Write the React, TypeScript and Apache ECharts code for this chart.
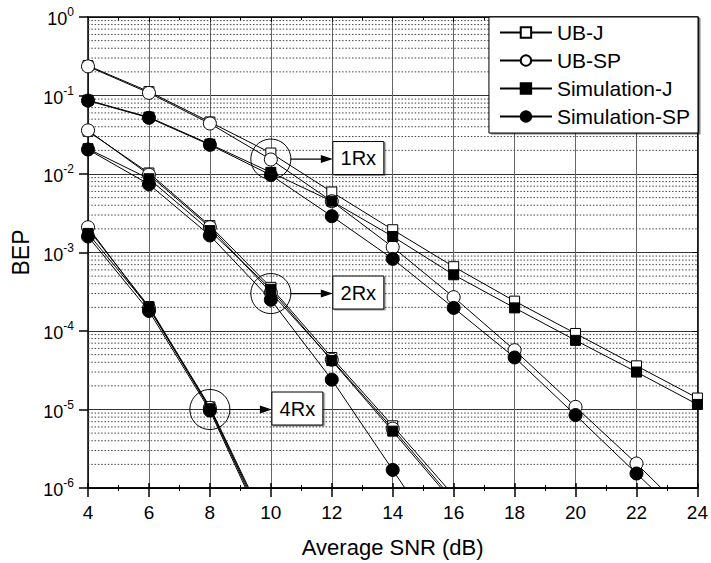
import React, { useEffect, useRef } from "react";
import * as echarts from "echarts";

const snr = [4, 6, 8, 10, 12, 14, 16, 18, 20, 22, 24];

// 1 receive antenna
const ubJ1 = [0.24, 0.112, 0.046, 0.0185, 0.0059, 0.00195, 0.00066, 0.00024, 0.000093, 0.000036, 0.000014];
const ubSP1 = [0.235, 0.108, 0.044, 0.0153, 0.0045, 0.00117, 0.00027, 0.000057, 0.0000108, 0.00000205, 0.00000035];
const simJ1 = [0.087, 0.053, 0.024, 0.0105, 0.0045, 0.0016, 0.00052, 0.000197, 0.000076, 0.00003, 0.0000116];
const simSP1 = [0.086, 0.052, 0.0235, 0.0097, 0.0029, 0.00083, 0.000197, 0.000046, 0.0000085, 0.00000153, 0.00000028];

// 2 receive antennas
const ubJ2 = [0.035, 0.0103, 0.0022, 0.00036, 0.000046, 0.0000062, 0.0000008, null, null, null, null];
const ubSP2 = [0.036, 0.0098, 0.0021, 0.00031, 0.000043, 0.0000057, 0.0000007, null, null, null, null];
const simJ2 = [0.021, 0.0087, 0.0019, 0.00034, 0.000042, 0.0000053, 0.00000065, null, null, null, null];
const simSP2 = [0.0205, 0.0074, 0.00165, 0.00025, 0.000024, 0.0000017, 0.00000012, null, null, null, null];

// 4 receive antennas
const ubJ4 = [0.002, 0.000205, 0.0000108, 0.00000026, null, null, null, null, null, null, null];
const ubSP4 = [0.0021, 0.000195, 0.0000105, 0.00000024, null, null, null, null, null, null, null];
const simJ4 = [0.00175, 0.0002, 0.0000102, 0.00000022, null, null, null, null, null, null, null];
const simSP4 = [0.0016, 0.00018, 0.0000097, 0.0000002, null, null, null, null, null, null, null];

const legendNames = ["UB-J", "UB-SP", "Simulation-J", "Simulation-SP"];

const groups = [
  [ubJ1, ubSP1, simJ1, simSP1],
  [ubJ2, ubSP2, simJ2, simSP2],
  [ubJ4, ubSP4, simJ4, simSP4],
];

const annotations = [
  { label: "1Rx", x: 10, y: 0.0155 },
  { label: "2Rx", x: 10, y: 0.0003 },
  { label: "4Rx", x: 8, y: 0.00001 },
];

const minorMantissas = [2, 3, 4, 5, 6, 7, 8, 9];
const decadeExponents = [-6, -5, -4, -3, -2, -1];

const FONT = "Liberation Sans, Arial, Helvetica, sans-serif";

const markerStyles = [
  { symbol: "rect", size: 10, fill: "#ffffff" },
  { symbol: "circle", size: 13, fill: "#ffffff" },
  { symbol: "rect", size: 10, fill: "#000000" },
  { symbol: "circle", size: 13, fill: "#000000" },
];

export default function App() {
  const ref = useRef<HTMLDivElement>(null);

  useEffect(() => {
    if (!ref.current) return;
    const chart = echarts.init(ref.current, undefined, { renderer: "svg" });

    // minor (dotted) horizontal grid lines at 2..9 x 10^e, drawn through the axes
    const minorData: any[] = [];
    decadeExponents.forEach((e) =>
      minorMantissas.forEach((m) => {
        const v = Number((m * Math.pow(10, e)).toPrecision(3));
        minorData.push([snr[0], v], [snr[snr.length - 1], v], [snr[snr.length - 1], "-"]);
      })
    );

    const series: any[] = [
      {
        type: "line",
        name: "minor-grid",
        data: minorData,
        symbol: "none",
        silent: true,
        connectNulls: false,
        z: 1,
        lineStyle: { type: [1.5, 1.8], color: "#444", width: 1 },
        emphasis: { disabled: true },
        tooltip: { show: false },
        animation: false,
      },
    ];
    groups.forEach((grp) => {
      grp.forEach((vals, si) => {
        const ms = markerStyles[si];
        const data = snr
          .map((x, i) => [x, vals[i]])
          .filter((p) => p[1] !== null && p[1] !== undefined);
        series.push({
          type: "line",
          name: legendNames[si],
          data,
          symbol: ms.symbol,
          symbolSize: ms.size,
          showAllSymbol: true,
          clip: true,
          z: 3 + si,
          lineStyle: { color: "#000", width: 1 },
          itemStyle: { color: ms.fill, borderColor: "#000", borderWidth: 1 },
          emphasis: { disabled: true },
          animation: false,
        });
      });
    });

    const axisLine = { show: true, lineStyle: { color: "#000", width: 1.5 } };

    chart.setOption({
      animation: false,
      backgroundColor: "#fff",
      grid: { left: 88, top: 17, width: 613, height: 472, containLabel: false },
      legend: {
        data: legendNames,
        orient: "vertical",
        right: 13,
        top: 17,
        backgroundColor: "#fff",
        borderColor: "#000",
        borderWidth: 1,
        shadowColor: "rgba(0,0,0,0.5)",
        shadowOffsetX: 2,
        shadowOffsetY: 1,
        shadowBlur: 0,
        padding: [5, 8, 6, 10],
        itemGap: 7,
        itemWidth: 52,
        itemHeight: 13,
        textStyle: { fontSize: 21, fontFamily: FONT, color: "#000" },
        selectedMode: false,
      },
      xAxis: [
        {
          type: "value",
          position: "bottom",
          min: 4,
          max: 24,
          interval: 2,
          axisLine,
          axisTick: { show: true, inside: false, length: 9, lineStyle: { color: "#000", width: 1.5 } },
          minorTick: { show: true, splitNumber: 2, length: 3, lineStyle: { color: "#000" } },
          axisLabel: { fontSize: 19, fontFamily: FONT, color: "#000", margin: 15 },
          splitLine: { show: true, lineStyle: { color: "#666", width: 1 } },
          name: "Average SNR (dB)",
          nameLocation: "middle",
          nameGap: 48,
          nameTextStyle: { fontSize: 22, fontFamily: FONT, color: "#000" },
        },
        {
          type: "value",
          position: "bottom",
          min: 4,
          max: 24,
          interval: 2,
          axisLine,
          axisTick: { show: true, inside: true, length: 5, lineStyle: { color: "#000", width: 1.5 } },
          minorTick: { show: true, splitNumber: 2, length: 3, lineStyle: { color: "#000" } },
          axisLabel: { show: false },
          splitLine: { show: false },
        },
        {
          type: "value",
          position: "top",
          min: 4,
          max: 24,
          interval: 2,
          axisLine,
          axisTick: { show: true, inside: true, length: 5, lineStyle: { color: "#000" } },
          minorTick: { show: true, splitNumber: 2, length: 3, lineStyle: { color: "#000" } },
          axisLabel: { show: false },
          splitLine: { show: false },
        },
      ],
      yAxis: [
        {
          type: "log",
          logBase: 10,
          min: 1e-6,
          max: 1,
          position: "left",
          axisLine,
          axisTick: { show: true, inside: false, length: 9, lineStyle: { color: "#000", width: 1.5 } },
          axisLabel: {
            margin: 14,
            formatter: (v: number) => `{b|10}{s|${Math.round(Math.log10(v))}}`,
            rich: {
              b: { fontSize: 18, fontFamily: FONT, color: "#000", lineHeight: 22, verticalAlign: "bottom" },
              s: { fontSize: 12, fontFamily: FONT, color: "#000", lineHeight: 12, verticalAlign: "top" },
            },
          },
          splitLine: { show: true, lineStyle: { color: "#333", width: 1 } },
          name: "BEP",
          nameLocation: "middle",
          nameGap: 56,
          nameRotate: 90,
          nameTextStyle: { fontSize: 23, fontFamily: FONT, color: "#000" },
        },
        {
          type: "log",
          logBase: 10,
          min: 1e-6,
          max: 1,
          position: "right",
          axisLine,
          axisTick: { show: true, inside: true, length: 5, lineStyle: { color: "#000" } },
          axisLabel: { show: false },
          splitLine: { show: false },
        },
      ],
      series,
    });

    const graphics: any[] = [];
    annotations.forEach((a) => {
      const p = chart.convertToPixel({ xAxisIndex: 0, yAxisIndex: 0 } as any, [a.x, a.y]) as number[];
      const [cx, cy] = p;
      const r = 20;
      const boxLeft = cx + 62;
      const boxW = 51;
      const boxH = 33;
      const boxCy = cy - 1;
      graphics.push(
        { type: "circle", z: 100, silent: true, shape: { cx, cy, r }, style: { fill: "none", stroke: "#000", lineWidth: 1 } },
        { type: "line", z: 100, silent: true, shape: { x1: cx + r, y1: cy, x2: boxLeft - 8, y2: cy }, style: { stroke: "#000", lineWidth: 1.2 } },
        {
          type: "polygon",
          z: 100,
          silent: true,
          shape: { points: [[boxLeft, cy], [boxLeft - 12, cy - 4], [boxLeft - 12, cy + 4]] },
          style: { fill: "#000" },
        },
        {
          type: "rect",
          z: 100,
          silent: true,
          shape: { x: boxLeft, y: boxCy - boxH / 2, width: boxW, height: boxH },
          style: { fill: "#fff", stroke: "#000", lineWidth: 1, shadowColor: "rgba(0,0,0,0.4)", shadowOffsetX: 1.5, shadowOffsetY: 1, shadowBlur: 0 },
        },
        {
          type: "text",
          z: 101,
          silent: true,
          style: {
            text: a.label,
            x: boxLeft + boxW / 2,
            y: boxCy,
            align: "center",
            verticalAlign: "middle",
            fontSize: 20,
            fontFamily: FONT,
            fill: "#000",
          },
        }
      );
    });
    chart.setOption({ graphic: graphics });

    return () => chart.dispose();
  }, []);

  return (
    <div
      ref={ref}
      style={{ position: "fixed", left: 0, top: 0, width: 711, height: 563, background: "#fff" }}
    />
  );
}
